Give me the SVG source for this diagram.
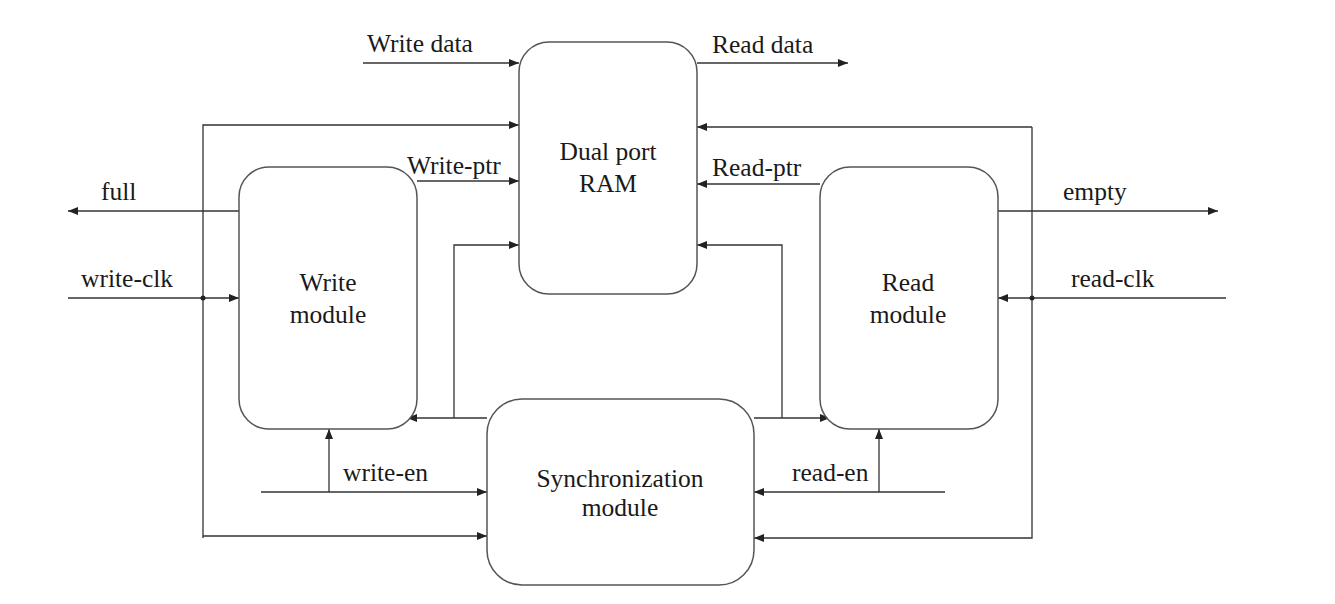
<svg xmlns="http://www.w3.org/2000/svg" width="1335" height="604" viewBox="0 0 1335 604">
<style>
.box{fill:#fff;stroke:#555;stroke-width:1.5}
.ln{fill:none;stroke:#333;stroke-width:1.3}
.t{font-family:"Liberation Serif","Times New Roman",serif;font-size:25.5px;fill:#1a1a1a}
.c{text-anchor:middle}
</style>
<defs>
<marker id="ah" viewBox="0 0 10 8" refX="10" refY="4" markerWidth="10" markerHeight="8" markerUnits="userSpaceOnUse" orient="auto">
<path d="M0,0 L10,4 L0,8 Z" fill="#222"/>
</marker>
</defs>
<rect width="1335" height="604" fill="#fff"/>
<g id="connectors">
<path class="ln" d="M363,63 H519" marker-end="url(#ah)"/>
<path class="ln" d="M697,63 H848" marker-end="url(#ah)"/>
<path class="ln" d="M203,538 V125 H519" marker-end="url(#ah)"/>
<path class="ln" d="M203,536 H487" marker-end="url(#ah)"/>
<path class="ln" d="M1032,127 V538 H754" marker-end="url(#ah)"/>
<path class="ln" d="M1032,127 H697" marker-end="url(#ah)"/>
<path class="ln" d="M417,181 H519" marker-end="url(#ah)"/>
<path class="ln" d="M820,184 H697" marker-end="url(#ah)"/>
<path class="ln" d="M239,211 H68" marker-end="url(#ah)"/>
<path class="ln" d="M998,211 H1218" marker-end="url(#ah)"/>
<path class="ln" d="M68,298 H239" marker-end="url(#ah)"/>
<path class="ln" d="M1226,298 H998" marker-end="url(#ah)"/>
<circle cx="203" cy="298" r="2.5" fill="#222"/>
<circle cx="1032" cy="298" r="2.5" fill="#222"/>
<path class="ln" d="M487,418 H407" marker-end="url(#ah)"/>
<path class="ln" d="M454,418 V245 H519" marker-end="url(#ah)"/>
<path class="ln" d="M754,418 H830" marker-end="url(#ah)"/>
<path class="ln" d="M782,418 V245 H697" marker-end="url(#ah)"/>
<path class="ln" d="M261,492 H487" marker-end="url(#ah)"/>
<path class="ln" d="M329,492 V429" marker-end="url(#ah)"/>
<path class="ln" d="M945,492 H754" marker-end="url(#ah)"/>
<path class="ln" d="M879,492 V429" marker-end="url(#ah)"/>
<text class="t" x="367" y="52">Write data</text>
<text class="t" x="712" y="53">Read data</text>
<text class="t" x="407" y="174">Write-ptr</text>
<text class="t" x="712" y="176">Read-ptr</text>
<text class="t" x="101" y="200">full</text>
<text class="t" x="81" y="287">write-clk</text>
<text class="t" x="1063" y="200">empty</text>
<text class="t" x="1071" y="287">read-clk</text>
<text class="t" x="343" y="481">write-en</text>
<text class="t" x="792" y="481">read-en</text>
</g>
<g id="ram">
<rect class="box" x="519" y="42" width="178" height="252" rx="30"/>
<text class="t c" x="608" y="160">Dual port</text>
<text class="t c" x="608" y="192">RAM</text>
</g>
<g id="write-module">
<rect class="box" x="239" y="167" width="178" height="262" rx="30"/>
<text class="t c" x="328" y="291">Write</text>
<text class="t c" x="328" y="323">module</text>
</g>
<g id="read-module">
<rect class="box" x="820" y="167" width="178" height="262" rx="30"/>
<text class="t c" x="908" y="291">Read</text>
<text class="t c" x="908" y="323">module</text>
</g>
<g id="sync-module">
<rect class="box" x="487" y="399" width="267" height="186" rx="35"/>
<text class="t c" x="620" y="487">Synchronization</text>
<text class="t c" x="620" y="516">module</text>
</g>
</svg>
